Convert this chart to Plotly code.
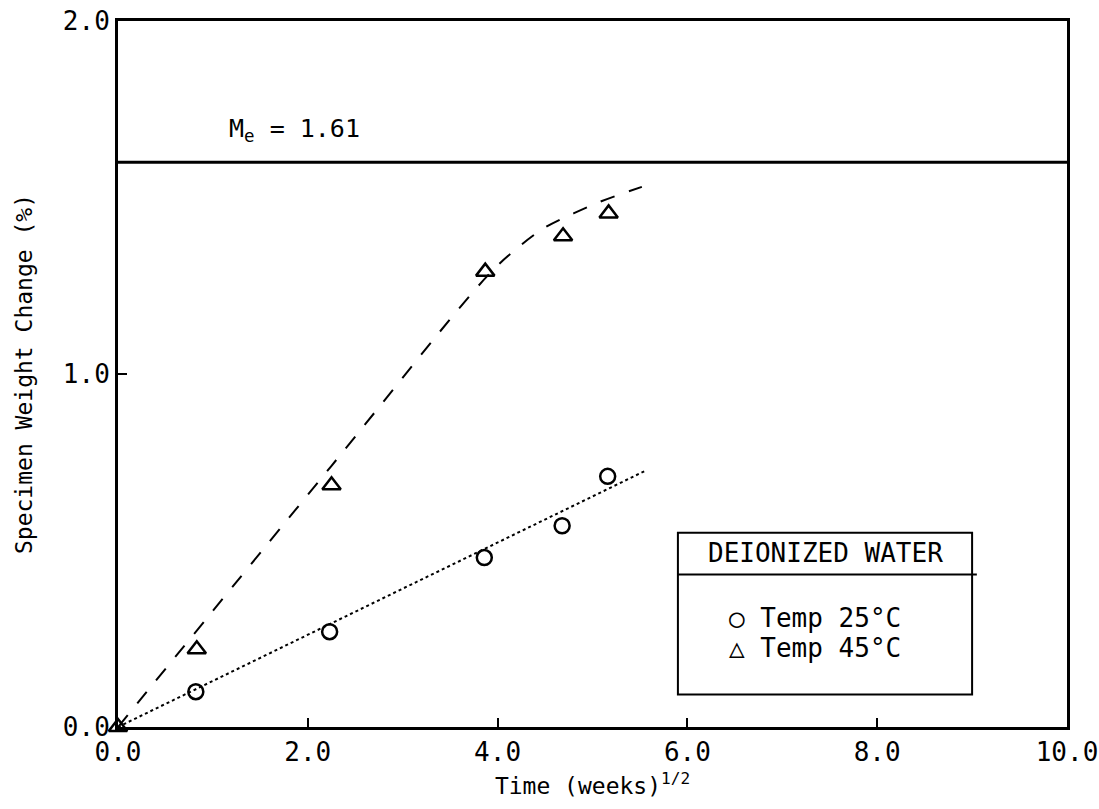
import plotly.graph_objects as go

# Data
x25 = [0.82, 2.23, 3.86, 4.68, 5.16]
y25 = [0.10, 0.27, 0.48, 0.57, 0.71]
x45 = [0.0, 0.83, 2.25, 3.87, 4.69, 5.17]
y45 = [0.0, 0.22, 0.685, 1.29, 1.39, 1.455]
fit25_x = [0.0, 5.55]
fit25_y = [0.0, 0.725]
fit45_x = [0.0, 2.25, 3.9, 4.2, 4.5, 4.8, 5.1, 5.52]
fit45_y = [0.0, 0.74, 1.28, 1.355, 1.415, 1.455, 1.49, 1.53]
me_value = 1.6
me_label = "M<sub>e</sub> = 1.61"
xticks = [0, 2, 4, 6, 8, 10]
xticklabels = ["0.0", "2.0", "4.0", "6.0", "8.0", "10.0"]
yticks = [0, 1, 2]
yticklabels = ["0.0", "1.0", "2.0"]

FONT = "DejaVu Sans Mono"

fig = go.Figure()
fig.add_trace(go.Scatter(x=fit25_x, y=fit25_y, mode="lines",
                         line=dict(color="black", width=2, dash="dot"), showlegend=False))
fig.add_trace(go.Scatter(x=fit45_x, y=fit45_y, mode="lines", line_shape="spline",
                         line=dict(color="black", width=2, dash="longdash"), showlegend=False))
fig.add_trace(go.Scatter(x=x25, y=y25, mode="markers",
                         marker=dict(symbol="circle-open", size=15, color="black", line=dict(width=2.5)),
                         showlegend=False))
fig.add_trace(go.Scatter(x=x45, y=y45, mode="markers", cliponaxis=False,
                         marker=dict(symbol="triangle-up-open", size=16, color="black", line=dict(width=2.5)),
                         showlegend=False))

fig.add_hline(y=me_value, line=dict(color="black", width=3))
fig.add_annotation(x=1.15, y=me_value + 0.09, xref="x", yref="y", text=me_label, showarrow=False,
                   xanchor="left", yanchor="middle", font=dict(size=25, family=FONT, color="black"))

# Legend box
fig.add_shape(type="rect", xref="x", yref="y", x0=5.9, x1=9.0, y0=0.092, y1=0.55,
              line=dict(color="black", width=2), fillcolor="white")
fig.add_shape(type="line", xref="x", yref="y", x0=5.9, x1=9.05, y0=0.432, y1=0.432,
              line=dict(color="black", width=2))
fig.add_annotation(x=7.45, y=0.492, xref="x", yref="y", text="DEIONIZED WATER", showarrow=False,
                   font=dict(size=26, family=FONT, color="black"))
fig.add_annotation(x=6.42, y=0.308, xref="x", yref="y", text="○ Temp 25°C", showarrow=False,
                   xanchor="left", font=dict(size=26, family=FONT, color="black"))
fig.add_annotation(x=6.42, y=0.223, xref="x", yref="y", text="△ Temp 45°C", showarrow=False,
                   xanchor="left", font=dict(size=26, family=FONT, color="black"))

fig.update_xaxes(range=[0, 10], tickvals=xticks, ticktext=xticklabels, automargin=False,
                 showline=True, linecolor="black", linewidth=3, mirror=True,
                 ticks="inside", ticklen=9, tickwidth=2, tickcolor="black",
                 showgrid=False, zeroline=False,
                 tickfont=dict(size=26, family=FONT, color="black"),
                 title=dict(text="Time (weeks)<sup>1/2</sup>", standoff=12,
                            font=dict(size=23, family=FONT, color="black")))
fig.update_yaxes(range=[0, 2], tickvals=yticks, ticktext=yticklabels, automargin=False,
                 showline=True, linecolor="black", linewidth=3, mirror=True,
                 ticks="inside", ticklen=9, tickwidth=2, tickcolor="black",
                 showgrid=False, zeroline=False,
                 tickfont=dict(size=26, family=FONT, color="black"),
                 title=dict(text="Specimen Weight Change (%)", standoff=24,
                            font=dict(size=23, family=FONT, color="black")))

fig.update_layout(width=1099, height=809, plot_bgcolor="white", paper_bgcolor="white",
                  margin=dict(l=118, r=32, t=21, b=82), showlegend=False)

fig.write_html("out.html")
